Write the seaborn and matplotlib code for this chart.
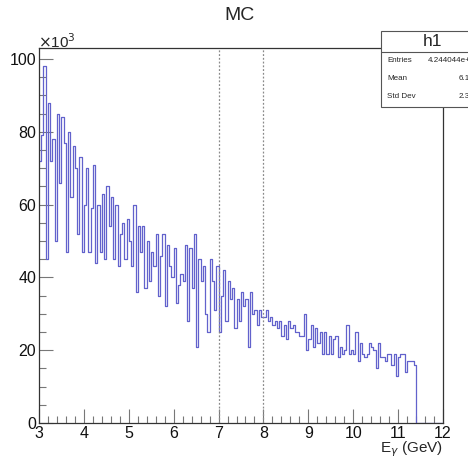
import numpy as np
import pandas as pd
import matplotlib
matplotlib.use("Agg")
import matplotlib.pyplot as plt
import seaborn as sns
from matplotlib.patches import Rectangle
from matplotlib.lines import Line2D
from matplotlib.ticker import MultipleLocator

# ---- data (counts in units of 10^3), bins of 0.05 GeV starting at 3.0 GeV ----
bin_start = 3.0
bin_width = 0.05
counts_k = [
    72, 79, 98, 45, 88, 72, 78, 50, 85, 66, 84, 77, 47, 80, 62, 76, 70, 52, 73, 47,
    60, 70, 47, 59, 71, 44, 60, 47, 63, 45, 65, 54, 62, 45, 60, 43, 52, 55, 45, 56,
    50, 43, 60, 36, 54, 47, 54, 37, 50, 39, 47, 43, 52, 35, 46, 52, 32, 49, 43, 40,
    48, 33, 38, 41, 39, 49, 28, 48, 37, 52, 21, 45, 39, 43, 30, 25, 45, 39, 31, 43,
    25, 35, 42, 28, 39, 34, 37, 26, 34, 28, 36, 32, 34, 21, 36, 30, 31, 27, 31, 29,
    29, 31, 28, 29, 27, 28, 26, 28, 24, 27, 23, 28, 26, 27, 25, 25, 24, 24, 30, 20,
    23, 27, 21, 26, 22, 25, 19, 25, 19, 24, 19, 23, 24, 18, 21, 19, 20, 27, 19, 20,
    19, 25, 17, 22, 19, 18, 19, 22, 21, 20, 15, 22, 18, 18, 17, 19, 19, 16, 19, 13,
    18, 19, 19, 14, 17, 17, 17, 16,
    0, 0, 0, 0, 0, 0, 0, 0, 0, 0, 0, 0,
]
x_ticks = [3, 4, 5, 6, 7, 8, 9, 10, 11, 12]
y_ticks = [0, 20, 40, 60, 80, 100]
cut_lines = [7, 8]
stats_labels = ["Entries", "Mean", "Std Dev"]
stats_values = ["4.244044e+06", "6.125", "2.345"]

n = len(counts_k)
edges = [float(v) for v in (bin_start + bin_width * np.arange(n + 1))]
centers = [0.5 * (edges[i] + edges[i + 1]) for i in range(n)]
df = pd.DataFrame({"E": centers, "w": [float(c) for c in counts_k]})

sns.set_style("white")
plt.rcParams["font.family"] = ["Liberation Sans", "DejaVu Sans"]

fig = plt.figure(figsize=(4.68, 4.57), dpi=100)
ax = fig.add_axes([39 / 468, 1 - 423 / 457, (443 - 39) / 468, (423 - 48) / 457])

sns.histplot(data=df, x="E", weights="w", bins=edges, element="step", fill=False,
             color="#6262cc", linewidth=0.9, ax=ax)

for c in cut_lines:
    ax.axvline(c, color="#8a8a8a", linestyle=(0, (1.5, 1.5)), linewidth=0.9)

ax.set_xlim(3, 12)
ax.set_ylim(0, 103)
ax.set_xticks(x_ticks)
ax.set_yticks(y_ticks)
ax.set_xticklabels([str(t) for t in x_ticks])
ax.set_yticklabels([str(t) for t in y_ticks])
ax.xaxis.set_minor_locator(MultipleLocator(0.2))
ax.yaxis.set_minor_locator(MultipleLocator(5))
ax.tick_params(axis="both", which="both", bottom=True, left=True, top=False, right=False)
ax.tick_params(axis="both", which="major", direction="in", length=10, width=0.8,
               color="#777777", labelsize=11.5, pad=2, labelcolor="#111111")
ax.tick_params(axis="both", which="minor", direction="in", length=5, width=0.8,
               color="#777777")
ax.tick_params(axis="x", which="major", pad=2)
ax.set_xlabel("")
ax.set_ylabel("")
for s in ax.spines.values():
    s.set_color("#333333")
    s.set_linewidth(0.9)

fig.text(240 / 468, 1 - 15 / 457, "MC", ha="center", va="center", fontsize=14)
fig.text(38 / 468, 1 - 42 / 457, r"$\times$10$^{3}$", ha="left", va="center", fontsize=11)
fig.text(443 / 468, 1 - 449 / 457, r"E$_{\gamma}$ (GeV)", ha="right", va="center", fontsize=11)

# stats box (ROOT style), partially clipped by the figure edge
bx0, bx1, by0, by1 = 381, 485, 31, 107
fig.patches.append(Rectangle((bx0 / 468, 1 - by1 / 457), (bx1 - bx0) / 468, (by1 - by0) / 457,
                             transform=fig.transFigure, facecolor="white",
                             edgecolor="#555555", linewidth=0.8, zorder=5))
fig.lines.append(Line2D([bx0 / 468, bx1 / 468], [1 - 52 / 457, 1 - 52 / 457],
                        transform=fig.transFigure, color="#555555", linewidth=0.8, zorder=6))
fig.text(433 / 468, 1 - 41 / 457, "h1", ha="center", va="center", fontsize=12.5, zorder=7)
for i, (lab, val) in enumerate(zip(stats_labels, stats_values)):
    yy = 1 - (60 + i * 18.5) / 457
    fig.text(387 / 468, yy, lab, ha="left", va="center", fontsize=5.8, zorder=7)
    fig.text(479 / 468, yy, val, ha="right", va="center", fontsize=5.8, zorder=7)

fig.savefig("out.png", dpi=100)
